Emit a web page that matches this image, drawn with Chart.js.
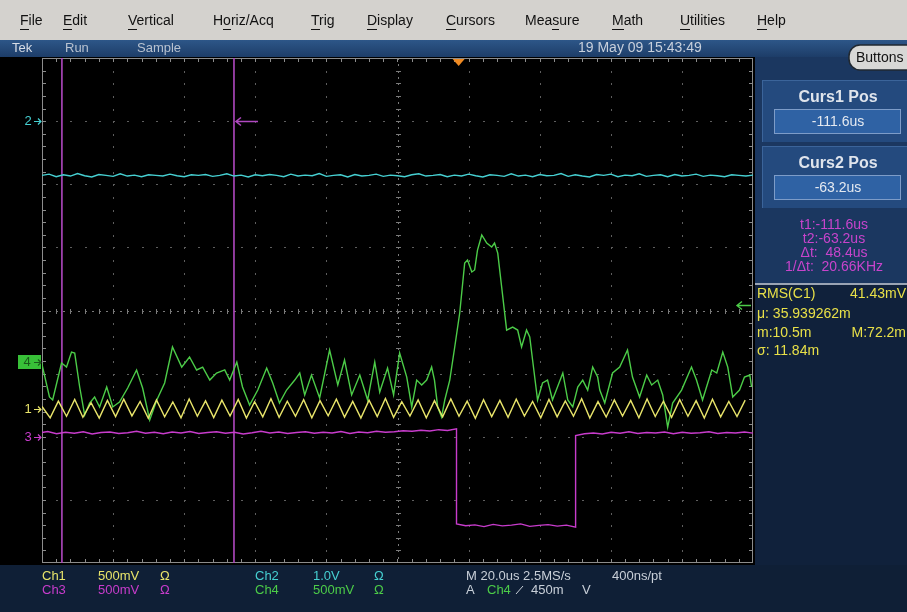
<!DOCTYPE html>
<html>
<head>
<meta charset="utf-8">
<script src="https://cdn.jsdelivr.net/npm/chart.js@4.4.1/dist/chart.umd.min.js"></script>
<style>
  html, body { margin: 0; padding: 0; background: #000; overflow: hidden; }
  #wrap { width: 907px; height: 612px; position: relative; }
  canvas { display: block; }
</style>
</head>
<body>
<div id="wrap"><canvas id="scope" width="907" height="612"></canvas></div>
<script>
// ---- Horizontal record (microseconds) ----
const T_MIN = -117.2;          // left edge of the graticule
const T_DIV = 20;              // 20.0 us / div, 10 divisions
const T_MAX = T_MIN + 10 * T_DIV;

// ---- Channel settings (mV per division, marker position in divisions) ----
const ch1Scale = 500, ch1Pos = -1.56;
const ch2Scale = 1000, ch2Pos = 3.0;
const ch3Scale = 500, ch3Pos = -2.0;
const ch4Scale = 500, ch4Pos = -0.816;
const trigLevel = 450;         // mV on Ch4

// ---- Cursors ----
const cursorTimes = [-111.6, -63.2];

// ---- Ch1 (yellow): sampled every 2.3 us, mV ----
const ch1Step = 2.3;
const ch1Values = [
  20,-70,62,-58,75,-66,50,-72,68,-60,78,-55,60,-74,72,-62,55,-70,80,-58,
  64,-68,70,-56,76,-72,58,-62,82,-66,62,-58,74,-70,66,-54,78,-64,60,-72,
  70,-60,84,-66,58,-56,72,-70,66,-62,80,-58,62,-74,74,-60,68,-66,78,-56,
  60,-70,76,-62,64,-58,82,-72,58,-64,72,-56,68,-70,80,-60,62,-66,74,-58,
  66,-72,78,-62,60,-60,70
];

// ---- Ch2 (cyan): sampled every 2.0 us, mV ----
const ch2Step = 2.0;
const ch2Values = [
  -860,-840,-880,-850,-870,-830,-865,-885,-845,-860,-875,-835,-870,-855,-880,-850,-860,-870,-840,-865,
  -880,-850,-860,-845,-875,-860,-835,-870,-855,-885,-850,-865,-845,-860,-880,-840,-870,-855,-865,-830,
  -875,-860,-850,-885,-845,-870,-860,-840,-875,-855,-865,-880,-850,-835,-870,-860,-845,-880,-855,-870,
  -840,-865,-885,-850,-860,-875,-835,-870,-855,-880,-845,-865,-860,-830,-875,-850,-870,-885,-845,-860,
  -840,-880,-855,-865,-835,-875,-860,-850,-880,-845,-870,-860,-840,-875,-855,-865,-880,-850,-860,-870,-855
];

// ---- Ch3 (magenta): gate pulse, edges at ch3Fall / ch3Rise (us), mV ----
const ch3Fall = -0.6, ch3Rise = 32.9, ch3Step = 2.5;
const ch3Before = [
  30,42,24,36,28,40,22,34,38,26,32,44,28,36,24,38,30,42,26,34,
  40,28,36,22,32,44,30,38,26,34,40,28,36,30,42,26,38,32,44,36,
  40,48,44,52,46,56,50,62
];
const ch3Low = [-690,-705,-698,-712,-694,-706,-700,-690,-710,-702,-696,-708,-700,-716];
const ch3After = [10,24,30,22,36,28,40,26,34,30,38,24,36,28,32,40,26,34,30,38,28];

// ---- Ch4 (green): sample times (us) and values (mV) ----
const ch4Time = [
  -117.3,-115.1,-114.2,-111.7,-110.3,-108.9,-108.0,-106.6,-105.2,-103.8,
  -102.4,-101.0,-99.0,-97.3,-95.4,-93.1,-90.6,-88.9,-86.9,-84.9,
  -82.7,-80.5,-77.9,-75.7,-73.7,-72.0,-70.0,-68.1,-65.8,-64.4,
  -62.4,-60.8,-58.8,-56.5,-54.0,-52.3,-50.4,-48.4,-46.1,-44.7,
  -43.3,-41.4,-39.1,-36.3,-34.0,-32.1,-30.1,-27.8,-25.6,-23.6,
  -22.2,-20.0,-18.3,-16.6,-14.6,-13.2,-11.8,-10.4,-9.0,-7.6,
  -6.8,-5.9,-4.8,-3.9,-2.5,-1.1,0.3,1.7,2.5,3.7,
  4.5,5.3,6.5,7.9,9.3,10.1,11.0,12.1,13.5,15.2,
  16.6,17.7,19.1,20.0,20.8,22.2,23.6,25.0,26.4,27.8,
  29.3,30.7,32.1,33.5,34.9,36.3,37.7,39.1,39.7,41.1,
  43.3,45.3,47.5,48.9,50.9,52.9,54.3,56.0,57.4,58.8,
  60.2,62.7,65.5,66.9,68.6,71.2,72.6,74.3,75.7,77.1,
  79.0,80.4,81.9,82.4
];
const ch4Values = [
  -8,-277,-301,-8,-40,79,71,-198,-420,-325,
  -277,-356,-198,-356,-317,-206,-63,-206,-459,-301,
  -166,119,-40,40,-63,-40,-143,-87,-63,-143,
  0,-198,-341,-222,-48,-166,-325,-222,-143,-87,
  -261,-103,-285,95,-182,16,-261,-103,-301,0,
  -238,-48,-261,71,-119,-356,-143,-182,-143,-40,
  -143,-356,-436,-301,-143,119,388,784,808,713,
  729,887,1006,942,911,942,863,594,253,277,
  253,119,253,198,16,-301,-166,-143,-301,-198,
  -87,-301,-356,-198,-143,-222,-40,-119,-222,-325,
  -87,-40,95,-119,-277,-103,-182,-143,-261,-515,
  -325,-222,-40,-143,-301,-63,-87,79,-40,-277,
  -222,-119,-103,-198
];

// ---- Colours ----
const COL = {
  ch1: '#e8e46a', ch2: '#46d0d2', ch3: '#c83ccc', ch4: '#4ccc48',
  cursor: '#b048c0', text: '#c8cfd8'
};

// Convert a channel sample (mV) to graticule divisions
const toDiv = (mv, scale, pos) => pos + mv / scale;

function uniformPoints(values, step, scale, pos) {
  return values.map((v, i) => ({ x: T_MIN + i * step, y: toDiv(v, scale, pos) }));
}

const ch1Points = uniformPoints(ch1Values, ch1Step, ch1Scale, ch1Pos);
const ch2Points = uniformPoints(ch2Values, ch2Step, ch2Scale, ch2Pos);
const ch4Points = ch4Time.map((t, i) => ({ x: t, y: toDiv(ch4Values[i], ch4Scale, ch4Pos) }));
const ch3Points = [];
ch3Before.forEach((v, i) => ch3Points.push({ x: ch3Fall - (ch3Before.length - 1 - i) * ch3Step, y: toDiv(v, ch3Scale, ch3Pos) }));
ch3Low.forEach((v, i) => ch3Points.push({ x: ch3Fall + i * (ch3Rise - ch3Fall) / (ch3Low.length - 1), y: toDiv(v, ch3Scale, ch3Pos) }));
ch3After.forEach((v, i) => ch3Points.push({ x: ch3Rise + i * ch3Step, y: toDiv(v, ch3Scale, ch3Pos) }));

const UI_FONT = '"Liberation Sans", Arial, sans-serif';

function txt(ctx, s, x, y, color, size, opts = {}) {
  ctx.font = (opts.bold ? 'bold ' : '') + size + 'px ' + UI_FONT;
  ctx.fillStyle = color;
  ctx.textAlign = opts.align || 'left';
  ctx.textBaseline = 'middle';
  ctx.fillText(s, x, y);
}

// Menu bar with underlined access keys
const menuItems = ['File', 'Edit', 'Vertical', 'Horiz/Acq', 'Trig', 'Display', 'Cursors', 'Measure', 'Math', 'Utilities', 'Help'];
const menuKeys = [0, 0, 0, 1, 0, 0, 0, 3, 0, 0, 0];
const menuX = [20, 63, 128, 213, 311, 367, 446, 525, 612, 680, 757];

function drawMenu(ctx) {
  ctx.fillStyle = '#d4d2ce';
  ctx.fillRect(0, 0, 907, 40);
  ctx.font = '14px ' + UI_FONT;
  ctx.textBaseline = 'middle';
  ctx.textAlign = 'left';
  ctx.fillStyle = '#111';
  menuItems.forEach((m, i) => {
    const x = menuX[i];
    ctx.fillText(m, x, 21);
    const k = menuKeys[i];
    const x0 = x + ctx.measureText(m.slice(0, k)).width;
    const w = ctx.measureText(m[k]).width;
    ctx.fillRect(Math.round(x0), 29, Math.max(1, Math.round(w)), 1);
  });
}

function drawStatus(ctx) {
  const g = ctx.createLinearGradient(0, 40, 0, 57);
  g.addColorStop(0, '#2d5688');
  g.addColorStop(1, '#1d3d68');
  ctx.fillStyle = g;
  ctx.fillRect(0, 40, 907, 17);
  txt(ctx, 'Tek', 12, 48.5, '#d8dde6', 13);
  txt(ctx, 'Run', 65, 48.5, '#b8c2d0', 13);
  txt(ctx, 'Sample', 137, 48.5, '#b8c2d0', 13);
  txt(ctx, '19 May 09 15:43:49', 578, 48.5, '#c8d0dc', 14);
}

function roundRect(ctx, x, y, w, h, r) {
  ctx.beginPath();
  ctx.moveTo(x + r, y);
  ctx.arcTo(x + w, y, x + w, y + h, r);
  ctx.arcTo(x + w, y + h, x, y + h, r);
  ctx.arcTo(x, y + h, x, y, r);
  ctx.arcTo(x, y, x + w, y, r);
  ctx.closePath();
}

function drawRightPanel(ctx) {
  ctx.fillStyle = '#1b3760';
  ctx.fillRect(755, 57, 152, 226);
  ctx.fillStyle = '#10213b';
  ctx.fillRect(755, 283, 152, 282);

  // Buttons pill
  roundRect(ctx, 849, 45, 70, 25, 11);
  ctx.fillStyle = '#d8d8d6';
  ctx.fill();
  ctx.strokeStyle = '#202830';
  ctx.lineWidth = 1.5;
  ctx.stroke();
  txt(ctx, 'Buttons', 856, 58, '#111', 14);

  // Cursor position readouts
  const boxes = [
    { title: 'Curs1 Pos', value: cursorTimes[0].toFixed(1) + 'us', y: 80 },
    { title: 'Curs2 Pos', value: cursorTimes[1].toFixed(1) + 'us', y: 146 }
  ];
  boxes.forEach(b => {
    ctx.fillStyle = '#244a7e';
    ctx.fillRect(762, b.y, 145, 62);
    ctx.fillStyle = '#3b649a';
    ctx.fillRect(762, b.y, 145, 1);
    ctx.fillRect(762, b.y, 1, 62);
    txt(ctx, b.title, 838, b.y + 18, '#dfe4ec', 16, { bold: true, align: 'center' });
    ctx.fillStyle = '#2f62a4';
    ctx.fillRect(774, b.y + 29, 127, 25);
    ctx.strokeStyle = '#7d9cc8';
    ctx.lineWidth = 1;
    ctx.strokeRect(774.5, b.y + 29.5, 126, 24);
    txt(ctx, b.value, 838, b.y + 42, '#e4e9f0', 14, { align: 'center' });
  });

  // Cursor readout text
  const dt = cursorTimes[1] - cursorTimes[0];
  const inv = 1000 / dt;
  const lines = [
    't1:-' + Math.abs(cursorTimes[0]).toFixed(1) + 'us',
    't2:-' + Math.abs(cursorTimes[1]).toFixed(1) + 'us',
    '\u0394t:  ' + dt.toFixed(1) + 'us',
    '1/\u0394t:  ' + inv.toFixed(2) + 'KHz'
  ];
  lines.forEach((s, i) => txt(ctx, s, 834, 225 + i * 14, '#c844cc', 14, { align: 'center' }));

  // Separator
  ctx.fillStyle = '#9aa4b4';
  ctx.fillRect(755, 283, 152, 2);

  // Measurement readout
  const Y = '#e8e048';
  txt(ctx, 'RMS(C1)', 757, 294, Y, 14);
  txt(ctx, '41.43mV', 906, 294, Y, 14, { align: 'right' });
  txt(ctx, '\u03bc: 35.939262m', 757, 314, Y, 14);
  txt(ctx, 'm:10.5m', 757, 333, Y, 14);
  txt(ctx, 'M:72.2m', 906, 333, Y, 14, { align: 'right' });
  txt(ctx, '\u03c3: 11.84m', 757, 351, Y, 14);
}

function drawBottom(ctx) {
  ctx.fillStyle = '#0f1f36';
  ctx.fillRect(0, 565, 907, 47);
  const r1 = 576, r2 = 590;
  txt(ctx, 'Ch1', 42, r1, COL.ch1, 13);
  txt(ctx, (ch1Scale) + 'mV', 98, r1, COL.ch1, 13);
  txt(ctx, '\u03a9', 160, r1, COL.ch1, 13);
  txt(ctx, 'Ch3', 42, r2, COL.ch3, 13);
  txt(ctx, (ch3Scale) + 'mV', 98, r2, COL.ch3, 13);
  txt(ctx, '\u03a9', 160, r2, COL.ch3, 13);
  txt(ctx, 'Ch2', 255, r1, COL.ch2, 13);
  txt(ctx, (ch2Scale / 1000).toFixed(1) + 'V', 313, r1, COL.ch2, 13);
  txt(ctx, '\u03a9', 374, r1, COL.ch2, 13);
  txt(ctx, 'Ch4', 255, r2, COL.ch4, 13);
  txt(ctx, (ch4Scale) + 'mV', 313, r2, COL.ch4, 13);
  txt(ctx, '\u03a9', 374, r2, COL.ch4, 13);
  txt(ctx, 'M ' + T_DIV.toFixed(1) + 'us 2.5MS/s', 466, r1, COL.text, 13);
  txt(ctx, '400ns/pt', 612, r1, COL.text, 13);
  txt(ctx, 'A', 466, r2, COL.text, 13);
  txt(ctx, 'Ch4', 487, r2, COL.ch4, 13);
  // rising-slope symbol
  ctx.strokeStyle = COL.text; ctx.lineWidth = 1;
  ctx.beginPath(); ctx.moveTo(516, 594); ctx.lineTo(523, 586); ctx.stroke();
  txt(ctx, trigLevel + 'm', 531, r2, COL.text, 13);
  txt(ctx, 'V', 582, r2, COL.text, 13);
}

function drawGraticule(ctx, a) {
  const w = a.right - a.left, h = a.bottom - a.top;
  const dx = w / 10, dy = h / 8;
  ctx.fillStyle = '#000';
  ctx.fillRect(a.left, a.top, w, h);
  ctx.fillStyle = '#5e5e5e';
  for (let i = 1; i < 10; i++) {
    if (i === 5) continue;
    const x = Math.round(a.left + i * dx);
    for (let j = 1; j < 40; j++) {
      const y = Math.round(a.top + j * dy / 5);
      ctx.fillRect(x, y, 1, 2);
    }
  }
  for (let k = 1; k < 8; k++) {
    if (k === 4) continue;
    const y = Math.round(a.top + k * dy);
    for (let j = 1; j < 50; j++) {
      const x = Math.round(a.left + j * dx / 5);
      ctx.fillRect(x, y, 2, 1);
    }
  }
  // centre crosshair
  const cx = Math.round(a.left + 5 * dx), cy = Math.round(a.top + 4 * dy);
  ctx.fillStyle = '#7a7a7a';
  for (let j = 0; j < 50 * 4; j++) {
    const x = Math.round(a.left + j * dx / 20);
    if (j % 2 === 0) ctx.fillRect(x, cy, 2, 1);
  }
  for (let j = 0; j < 40 * 4; j++) {
    const y = Math.round(a.top + j * dy / 20);
    if (j % 2 === 0) ctx.fillRect(cx, y, 1, 2);
  }
  for (let j = 1; j < 50; j++) {
    const x = Math.round(a.left + j * dx / 5);
    ctx.fillRect(x, cy - 2, 1, 5);
  }
  for (let j = 1; j < 40; j++) {
    const y = Math.round(a.top + j * dy / 5);
    ctx.fillRect(cx - 2, y, 5, 1);
  }
  // frame and edge ticks
  ctx.strokeStyle = '#8c8c8c';
  ctx.lineWidth = 1;
  ctx.strokeRect(Math.round(a.left) + 0.5, Math.round(a.top) + 0.5, Math.round(w) - 1, Math.round(h) - 1);
  ctx.fillStyle = '#8c8c8c';
  for (let j = 1; j < 50; j++) {
    const x = Math.round(a.left + j * dx / 5);
    ctx.fillRect(x, a.top, 1, 4);
    ctx.fillRect(x, a.bottom - 4, 1, 4);
  }
  for (let j = 1; j < 40; j++) {
    const y = Math.round(a.top + j * dy / 5);
    ctx.fillRect(a.left, y, 4, 1);
    ctx.fillRect(a.right - 4, y, 4, 1);
  }
}

function marker(ctx, label, y, color, boxed) {
  y = Math.round(y);
  if (boxed) {
    ctx.fillStyle = color;
    ctx.fillRect(18, y - 7, 23, 14);
    txt(ctx, label, 27, y, '#1a5a1a', 13, { align: 'center' });
    ctx.strokeStyle = '#1a5a1a';
  } else {
    txt(ctx, label, 28, y, color, 13, { align: 'center' });
    ctx.strokeStyle = color;
  }
  ctx.lineWidth = 1.2;
  ctx.beginPath();
  ctx.moveTo(34, y + 0.5); ctx.lineTo(41, y + 0.5);
  ctx.moveTo(38, y - 2.5); ctx.lineTo(41, y + 0.5); ctx.lineTo(38, y + 3.5);
  ctx.stroke();
}

const scopeScreen = {
  id: 'scopeScreen',
  beforeDraw(chart) {
    const ctx = chart.ctx;
    const a = chart.chartArea;
    ctx.save();
    ctx.fillStyle = '#000';
    ctx.fillRect(0, 0, 907, 612);
    drawMenu(ctx);
    drawStatus(ctx);
    drawRightPanel(ctx);
    drawBottom(ctx);
    drawGraticule(ctx, a);
    ctx.restore();
  },
  beforeDatasetsDraw(chart) {
    const ctx = chart.ctx;
    const a = chart.chartArea;
    const xs = chart.scales.x;
    ctx.save();
    ctx.strokeStyle = COL.cursor;
    ctx.lineWidth = 1.6;
    cursorTimes.forEach(t => {
      const x = xs.getPixelForValue(t);
      ctx.beginPath(); ctx.moveTo(x, a.top); ctx.lineTo(x, a.bottom); ctx.stroke();
    });
    ctx.restore();
  },
  afterDraw(chart) {
    const ctx = chart.ctx;
    const a = chart.chartArea;
    const xs = chart.scales.x, ys = chart.scales.y;
    ctx.save();
    // channel ground markers
    marker(ctx, '2', ys.getPixelForValue(ch2Pos), COL.ch2, false);
    marker(ctx, '4', ys.getPixelForValue(ch4Pos), '#38c038', true);
    marker(ctx, '1', ys.getPixelForValue(ch1Pos), COL.ch1, false);
    marker(ctx, '3', ys.getPixelForValue(ch3Pos), COL.ch3, false);

    // cursor-2 pointer at the Ch2 level
    const c2x = xs.getPixelForValue(cursorTimes[1]);
    const py = Math.round(ys.getPixelForValue(ch2Pos)) + 0.5;
    ctx.strokeStyle = COL.cursor;
    ctx.lineWidth = 1.5;
    ctx.beginPath();
    ctx.moveTo(c2x + 2, py); ctx.lineTo(c2x + 24, py);
    ctx.moveTo(c2x + 7, py - 4); ctx.lineTo(c2x + 2, py); ctx.lineTo(c2x + 7, py + 4);
    ctx.stroke();

    // trigger position (t = 0)
    const tx = xs.getPixelForValue(0);
    ctx.fillStyle = '#f08a22';
    ctx.beginPath();
    ctx.moveTo(tx - 6, a.top + 1); ctx.lineTo(tx + 6, a.top + 1); ctx.lineTo(tx, a.top + 8);
    ctx.closePath(); ctx.fill();

    // trigger level on Ch4
    const ty = Math.round(ys.getPixelForValue(toDiv(trigLevel, ch4Scale, ch4Pos))) + 0.5;
    ctx.strokeStyle = COL.ch4;
    ctx.lineWidth = 1.4;
    ctx.beginPath();
    ctx.moveTo(a.right - 16, ty); ctx.lineTo(a.right - 2, ty);
    ctx.moveTo(a.right - 11, ty - 4); ctx.lineTo(a.right - 16, ty); ctx.lineTo(a.right - 11, ty + 4);
    ctx.stroke();
    ctx.restore();
  }
};

const trace = (label, data, color, order) => ({
  label, data, borderColor: color, borderWidth: 1.4, showLine: true,
  pointRadius: 0, tension: 0, fill: false, order
});

new Chart(document.getElementById('scope'), {
  type: 'scatter',
  data: {
    datasets: [
      trace('Ch1', ch1Points, COL.ch1, 1),
      trace('Ch4', ch4Points, COL.ch4, 2),
      trace('Ch3', ch3Points, COL.ch3, 3),
      trace('Ch2', ch2Points, COL.ch2, 4)
    ]
  },
  options: {
    responsive: false,
    animation: false,
    devicePixelRatio: 1,
    layout: { padding: { left: 42, top: 58, right: 154, bottom: 49 } },
    scales: {
      x: { type: 'linear', min: T_MIN, max: T_MAX, display: false },
      y: { type: 'linear', min: -4, max: 4, display: false }
    },
    plugins: { legend: { display: false }, tooltip: { enabled: false } }
  },
  plugins: [scopeScreen]
});
</script>
</body>
</html>
